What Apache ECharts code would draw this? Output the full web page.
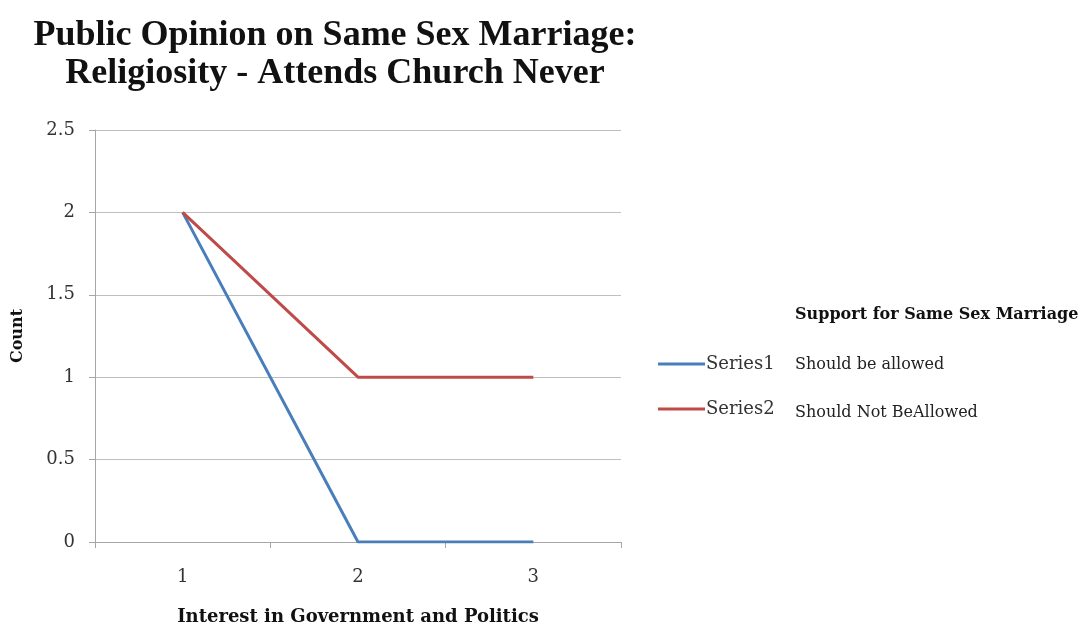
<!DOCTYPE html>
<html><head><meta charset="utf-8">
<script src="https://cdn.jsdelivr.net/npm/echarts@6/dist/echarts.min.js"></script>
<style>html,body{margin:0;padding:0;background:#fff}#c{width:1081px;height:631px}</style>
</head><body><div id="c"></div>
<script>
var categories = ['1', '2', '3'];
var series1 = [2, 0, 0];
var series2 = [2, 1, 1];
var seriesNames = ['Series1', 'Series2'];
var legendTitle = 'Support for Same Sex Marriage';
var legendLabels = ['Should be allowed', 'Should Not BeAllowed'];
var yTicks = [0, 0.5, 1, 1.5, 2, 2.5];

var serif = '"Liberation Serif",serif';
var dserif = '"DejaVu Serif",serif';
var chart = echarts.init(document.getElementById('c'));
chart.setOption({
  animation: false,
  backgroundColor: '#fff',
  title: {
    text: 'Public Opinion on Same Sex Marriage:\nReligiosity - Attends Church Never',
    left: 330, top: 12, textAlign: 'center',
    textStyle: {fontFamily: serif, fontWeight: 'bold', fontSize: 36, lineHeight: 38, color: '#111'}
  },
  grid: {left: 95, right: 460, top: 130, bottom: 88},
  legend: {
    orient: 'vertical', left: 653, top: 349, itemGap: 25,
    icon: 'rect', itemWidth: 47, itemHeight: 3,
    textStyle: {fontFamily: dserif, fontSize: 18, lineHeight: 20, color: '#333', padding: [0, 0, 0, -4]},
    data: seriesNames
  },
  xAxis: {
    type: 'category', data: categories, boundaryGap: true,
    name: 'Interest in Government and Politics', nameLocation: 'middle', nameGap: 66,
    nameTextStyle: {fontFamily: dserif, fontWeight: 'bold', fontSize: 18, color: '#111'},
    axisLine: {lineStyle: {color: '#a6a6a6', width: 1}},
    axisTick: {show: true, length: 6, alignWithLabel: false, lineStyle: {color: '#a6a6a6'}},
    axisLabel: {fontFamily: dserif, fontSize: 18, color: '#333', margin: 26}
  },
  yAxis: {
    type: 'value', min: 0, max: 2.5, interval: 0.5,
    name: 'Count', nameLocation: 'middle', nameGap: 69, nameRotate: 90,
    nameTextStyle: {fontFamily: dserif, fontWeight: 'bold', fontSize: 16, color: '#111'},
    axisLine: {show: true, lineStyle: {color: '#a6a6a6', width: 1}},
    axisTick: {show: true, length: 6, lineStyle: {color: '#a6a6a6'}},
    axisLabel: {fontFamily: dserif, fontSize: 18, color: '#333', margin: 20,
      formatter: function (v) { return yTicks.indexOf(v) >= 0 ? String(v) : ''; }},
    splitLine: {lineStyle: {color: '#bfbfbf', width: 1}}
  },
  graphic: [
    {type: 'text', left: 795, top: 307, style: {text: legendTitle, fontFamily: dserif, fontWeight: 'bold', fontSize: 16, fill: '#111'}},
    {type: 'text', left: 795, top: 357, style: {text: legendLabels[0], fontFamily: dserif, fontSize: 16, fill: '#222'}},
    {type: 'text', left: 795, top: 405, style: {text: legendLabels[1], fontFamily: dserif, fontSize: 16, fill: '#222'}}
  ],
  series: [
    {name: seriesNames[0], type: 'line', data: series1, symbol: 'none', lineStyle: {color: '#4a7ebb', width: 3}, itemStyle: {color: '#4a7ebb'}},
    {name: seriesNames[1], type: 'line', data: series2, symbol: 'none', lineStyle: {color: '#be4b48', width: 3}, itemStyle: {color: '#be4b48'}}
  ]
});
</script></body></html>
